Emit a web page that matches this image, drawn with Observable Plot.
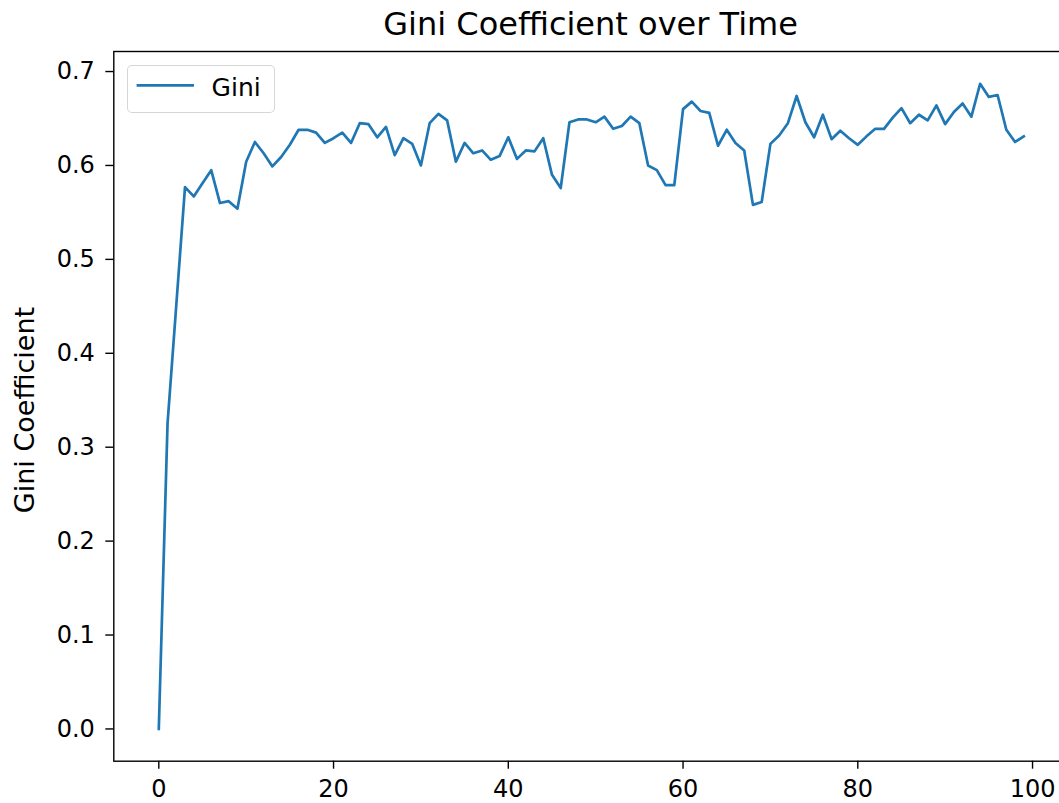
<!DOCTYPE html>
<html>
<head>
<meta charset="utf-8">
<script src="https://cdn.jsdelivr.net/npm/d3@7"></script>
<script src="https://cdn.jsdelivr.net/npm/@observablehq/plot@0.6"></script>
<style>
  html, body { margin: 0; padding: 0; background: white; }
  #wrap { position: relative; width: 1059px; height: 803px; overflow: hidden; background: white;
          font-family: "DejaVu Sans", sans-serif; color: black; }
  #title { position: absolute; left: 590.6px; top: 8px; transform: translateX(-50%);
           font-size: 32px; line-height: 32px; white-space: nowrap; }
  #ylabel { position: absolute; left: 23.7px; top: 410px; transform: translate(-50%, -50%) rotate(-90deg);
            font-size: 27px; line-height: 27px; white-space: nowrap; }
  #legend { position: absolute; left: 127px; top: 64.7px; width: 146px; height: 46px;
            border: 1.4px solid rgba(204,204,204,0.8); border-radius: 5px; background: rgba(255,255,255,0.8); }
  #legend svg { position: absolute; left: 0; top: 0; }
  #legend .lab { position: absolute; left: 83.6px; top: 9px; font-size: 25px; line-height: 25px; }
  #chart { position: absolute; left: 0; top: 0; width: 1075px; height: 803px; }
  #chart svg { max-width: none !important; width: 1075px; height: 803px; }
</style>
</head>
<body>
<div id="wrap">
  <div id="chart"></div>
  <div id="title"></div>
  <div id="ylabel"></div>
  <div id="legend"></div>
</div>
<script>
// ---- data ----
const titleText = "Gini Coefficient over Time";
const yLabelText = "Gini Coefficient";
const seriesName = "Gini";
const gini = [
  0.000, 0.325, 0.451, 0.577, 0.567, 0.581, 0.595, 0.560, 0.562, 0.554,
  0.604, 0.625, 0.613, 0.599, 0.609, 0.622, 0.638, 0.638, 0.635, 0.624,
  0.629, 0.635, 0.624, 0.645, 0.644, 0.630, 0.641, 0.611, 0.629, 0.623,
  0.600, 0.645, 0.655, 0.648, 0.604, 0.624, 0.613, 0.616, 0.606, 0.610,
  0.630, 0.607, 0.616, 0.615, 0.629, 0.590, 0.576, 0.646, 0.649, 0.649,
  0.646, 0.652, 0.639, 0.642, 0.652, 0.645, 0.600, 0.595, 0.579, 0.579,
  0.660, 0.668, 0.658, 0.656, 0.621, 0.638, 0.624, 0.616, 0.558, 0.561,
  0.623, 0.632, 0.645, 0.674, 0.646, 0.630, 0.654, 0.628, 0.637, 0.629,
  0.622, 0.631, 0.639, 0.639, 0.651, 0.661, 0.645, 0.654, 0.648, 0.664,
  0.644, 0.657, 0.666, 0.652, 0.687, 0.673, 0.675, 0.638, 0.625, 0.631
];
const xTicks = [0, 20, 40, 60, 80, 100];
const yTicks = [0.0, 0.1, 0.2, 0.3, 0.4, 0.5, 0.6, 0.7];

const lineColor = "#1f77b4";
const data = gini.map((g, i) => ({t: i, gini: g}));

// matplotlib-like 5% margins on y
const [ymin, ymax] = d3.extent(gini);
const ypad = 0.05 * (ymax - ymin);

const chart = Plot.plot({
  width: 1075,
  height: 803,
  marginLeft: 113.3,
  marginRight: 6.7,
  marginTop: 51,
  marginBottom: 42.3,
  style: {fontFamily: "DejaVu Sans", fontSize: "24px", color: "black", background: "transparent", overflow: "visible", maxWidth: "none"},
  x: {domain: [-5.15, 104.15]},
  y: {domain: [ymin - ypad, ymax + ypad]},
  marks: [
    Plot.axisX({ticks: xTicks, tickSize: 8, tickPadding: 11, label: null, strokeWidth: 1.4, fontSize: 24, tickFormat: d3.format("d")}),
    Plot.axisY({ticks: yTicks, tickSize: 8, tickPadding: 11, label: null, strokeWidth: 1.4, fontSize: 24, tickFormat: d3.format(".1f")}),
    Plot.line(data, {x: "t", y: "gini", stroke: lineColor, strokeWidth: 2.7, strokeLinejoin: "round", strokeLinecap: "square"}),
    Plot.frame({stroke: "black", strokeWidth: 1.4})
  ]
});
document.getElementById("chart").appendChild(chart);

document.getElementById("title").textContent = titleText;
document.getElementById("ylabel").textContent = yLabelText;

// legend (top-left, inside axes)
const legend = document.getElementById("legend");
const ns = "http://www.w3.org/2000/svg";
const lsvg = document.createElementNS(ns, "svg");
lsvg.setAttribute("width", "146");
lsvg.setAttribute("height", "46");
const ln = document.createElementNS(ns, "line");
ln.setAttribute("x1", "8.6"); ln.setAttribute("x2", "66");
ln.setAttribute("y1", "19.3"); ln.setAttribute("y2", "19.3");
ln.setAttribute("stroke", lineColor); ln.setAttribute("stroke-width", "2.7");
lsvg.appendChild(ln);
legend.appendChild(lsvg);
const lab = document.createElement("div");
lab.className = "lab";
lab.textContent = seriesName;
legend.appendChild(lab);
</script>
</body>
</html>
